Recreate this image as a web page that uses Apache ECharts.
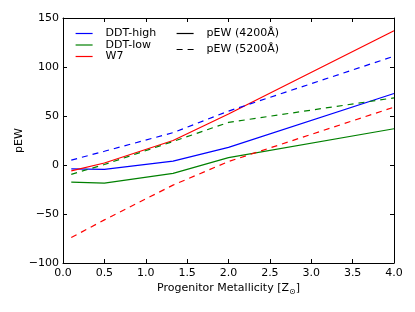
<!DOCTYPE html>
<html><head><meta charset="utf-8">
<script src="https://cdn.jsdelivr.net/npm/echarts@6/dist/echarts.min.js"></script>
<style>html,body{margin:0;padding:0;background:#fff}#c{width:415px;height:312px}</style>
</head><body><div id="c"></div>
<script>
const metallicity = [0.1, 0.5, 1.33, 2.0, 4.0];
const ddtHigh4200 = [-4, -4.5, 4, 18, 73];
const ddtLow4200 = [-17.5, -18.5, -8.5, 7.5, 37];
const w7_4200 = [-6, 2, 25, 52, 137];
const ddtHigh5200 = [5, 14, 33, 55, 111];
const ddtLow5200 = [-9.5, 0.5, 24, 43.5, 68.5];
const w7_5200 = [-74, -56, -20.5, 3.5, 59];
const modelNames = ['DDT-high', 'DDT-low', 'W7'];
const lineNames = ['pEW (4200Å)', 'pEW (5200Å)'];
const xLabel = 'Progenitor Metallicity [Z';
const yLabel = 'pEW';

const FONT = 'DejaVu Sans';
const zip = ys => metallicity.map((x, i) => [x, ys[i]]);
const mk = (name, ys, color, dashed) => ({
  name, type: 'line', data: zip(ys), symbol: 'none', silent: true,
  lineStyle: { color, width: 1.2, type: dashed ? [6, 5] : 'solid' },
  itemStyle: { color }, z: 3
});
const minus = v => String(v).replace('-', '\u2212');

const chart = echarts.init(document.getElementById('c'), null, { renderer: 'canvas' });
const axisCommon = {
  axisLine: { show: true, onZero: false, lineStyle: { color: '#000', width: 1 } },
  axisTick: { show: true, inside: true, length: 4, lineStyle: { color: '#000', width: 1 } },
  splitLine: { show: false }
};
const legendCommon = {
  orient: 'vertical', padding: 0, itemWidth: 17, selectedMode: false,
  itemStyle: { opacity: 0, borderWidth: 0 },
  lineStyle: { width: 1.2 }
};
chart.setOption({
  animation: false,
  backgroundColor: '#fff',
  grid: { left: 63, right: 21, top: 18, bottom: 49, containLabel: false },
  xAxis: [
    Object.assign({
      type: 'value', min: 0, max: 4, interval: 0.5, position: 'bottom',
      axisLabel: { color: '#000', fontFamily: FONT, fontSize: 11, margin: 5, formatter: v => v.toFixed(1) },
      name: '{a|' + xLabel + '}{s|\u2299}{a|]}', nameLocation: 'middle', nameGap: 18, nameMoveOverlap: false,
      nameTextStyle: { rich: {
        a: { color: '#000', fontFamily: FONT, fontSize: 11, lineHeight: 14 },
        s: { color: '#000', fontFamily: FONT, fontSize: 8, lineHeight: 14, padding: [8, 0, 0, 0] }
      } }
    }, axisCommon),
    Object.assign({ type: 'value', min: 0, max: 4, interval: 0.5, position: 'top', axisLabel: { show: false } }, axisCommon)
  ],
  yAxis: [
    Object.assign({
      type: 'value', min: -100, max: 150, interval: 50, position: 'left',
      axisLabel: { color: '#000', fontFamily: FONT, fontSize: 11, margin: 4, formatter: v => minus(v) },
      name: yLabel, nameLocation: 'middle', nameGap: 38, nameMoveOverlap: false,
      nameTextStyle: { color: '#000', fontFamily: FONT, fontSize: 11 }
    }, axisCommon),
    Object.assign({ type: 'value', min: -100, max: 150, interval: 50, position: 'right', axisLabel: { show: false } }, axisCommon)
  ],
  legend: [
    Object.assign({
      data: modelNames, left: 75, top: 28, itemHeight: 10, itemGap: 0.5,
      textStyle: { color: '#000', fontFamily: FONT, fontSize: 11, lineHeight: 10, padding: [0, 0, 0, 8] }
    }, legendCommon),
    Object.assign({
      data: lineNames, left: 176, top: 28, itemHeight: 11, itemGap: 5,
      textStyle: { color: '#000', fontFamily: FONT, fontSize: 11, lineHeight: 11, padding: [0, 0, 0, 8] }
    }, legendCommon)
  ],
  series: [
    mk('DDT-high', ddtHigh4200, '#0000ff', false),
    mk('DDT-low', ddtLow4200, '#008000', false),
    mk('W7', w7_4200, '#ff0000', false),
    mk('DDT-high 5200', ddtHigh5200, '#0000ff', true),
    mk('DDT-low 5200', ddtLow5200, '#008000', true),
    mk('W7 5200', w7_5200, '#ff0000', true),
    { name: lineNames[0], type: 'line', data: [], symbol: 'none', lineStyle: { color: '#000', width: 1.2, type: 'solid' }, itemStyle: { color: '#000' } },
    { name: lineNames[1], type: 'line', data: [], symbol: 'none', lineStyle: { color: '#000', width: 1.2, type: [6, 5] }, itemStyle: { color: '#000' } }
  ]
});
</script></body></html>
